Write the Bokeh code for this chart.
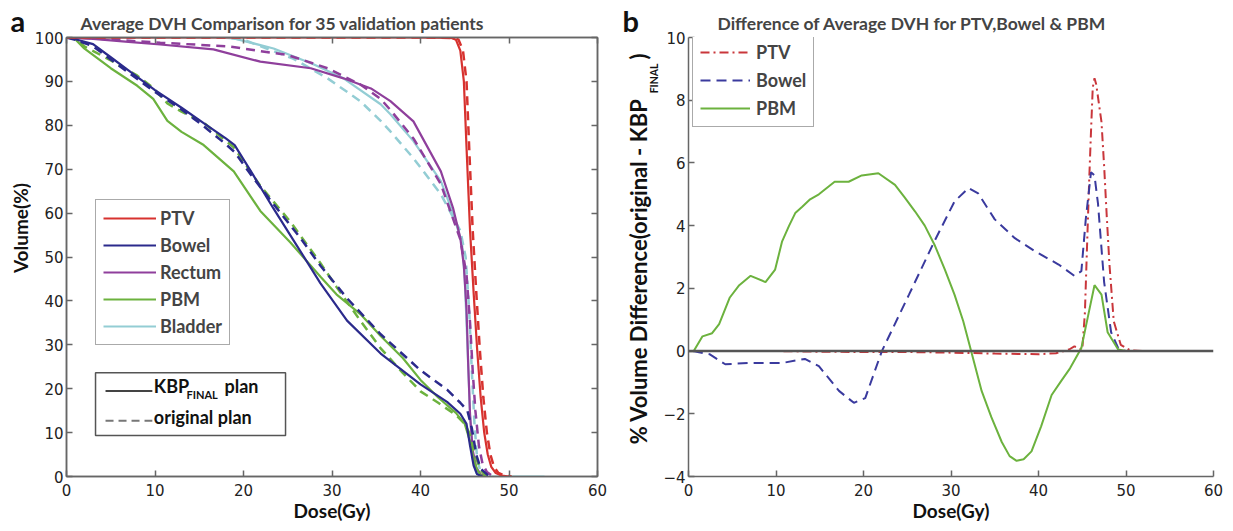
import math
from bokeh.plotting import figure
from bokeh.models import (Range1d, LinearAxis, Legend, LegendItem, Label,
                          BoxAnnotation, Span, FixedTicker)
from bokeh.layouts import row
from bokeh.embed import file_html
from bokeh.resources import INLINE

# ---------------- data: panel a (average DVH) ----------------
ptv_kbp_dose = [0, 40, 43.5, 44.0, 44.5, 44.9, 45.2, 45.6, 46.0, 46.4, 46.8, 47.2, 47.6, 48.0, 48.5, 49.2, 50.0]
ptv_kbp_vol = [100, 100, 99.9, 99.5, 97, 90, 75, 56, 42, 29, 18, 10, 5, 2.2, 0.8, 0.2, 0]
ptv_orig_dose = [0, 40, 43.8, 44.3, 44.8, 45.2, 45.5, 45.9, 46.3, 46.7, 47.1, 47.5, 47.9, 48.3, 48.8, 49.5, 50.3]
ptv_orig_vol = [100, 100, 99.9, 99.5, 97, 90, 75, 56, 42, 29, 18, 10, 5, 2.2, 0.8, 0.2, 0]

bowel_kbp_dose = [0, 1, 3, 5, 7, 10, 13, 15.5, 18, 19, 21, 23.4, 26.4, 28.7, 31.7, 35.5, 40, 43, 44.5, 45.2, 45.6, 46.0, 46.4, 47.0]
bowel_kbp_vol = [100, 99.6, 98.5, 95.5, 92.5, 88, 84, 80.5, 77, 75.5, 69, 61, 51.4, 44, 35.5, 28, 21, 17, 14.3, 12, 7, 2.5, 0.5, 0]
bowel_orig_dose = [0, 1, 3, 5, 7, 10, 13, 15.5, 18, 19, 21, 23.4, 26.4, 28.7, 31.7, 35.5, 40, 43, 44.5, 45.3, 45.8, 46.3, 46.8, 47.6, 48.0]
bowel_orig_vol = [100, 99.5, 98, 95, 92, 87.6, 83.6, 79.8, 75.7, 73.9, 68.3, 62, 54.4, 48, 40.6, 32.4, 24.2, 19.8, 16.8, 15, 11, 5, 1.8, 0.3, 0]

rectum_kbp_dose = [0, 3, 7, 10.6, 16.6, 21.9, 27.6, 31.3, 34.4, 36.6, 39.2, 42.3, 43.7, 44.5, 44.9, 45.2, 45.4, 45.6, 45.9, 46.3, 46.8, 47.3]
rectum_kbp_vol = [100, 99.7, 99, 98.4, 97.3, 94.5, 93, 90.7, 88.4, 85.5, 80.9, 69.5, 61, 54.3, 48, 38, 25, 14, 6, 2, 0.5, 0]
rectum_orig_dose = [0, 3, 10.6, 18.2, 25, 29.5, 33.2, 35.5, 36.6, 39.2, 42.3, 44.5, 45.2, 45.6, 45.9, 46.2, 46.6, 47.0, 47.5, 48.2]
rectum_orig_vol = [100, 99.8, 98.8, 98, 96, 93, 89.3, 86, 83.5, 77, 66.6, 54, 46, 35, 24, 15, 7, 3, 1, 0]

pbm_kbp_dose = [0, 0.8, 2, 5, 8, 9.8, 11.4, 13, 15.5, 18.9, 21.9, 25.3, 28.7, 30.5, 33.2, 35.5, 38, 40, 42, 44, 45, 45.6, 46.0, 46.4, 46.8, 47.2]
pbm_kbp_vol = [100, 100, 97.5, 93, 89, 86, 81, 78.5, 75.5, 69.5, 60.5, 53.3, 45.5, 41.5, 37, 32, 27, 22, 18, 14.5, 12, 8, 4, 1.5, 0.3, 0]
pbm_orig_dose = [0, 0.8, 2, 5, 8, 9.8, 11.4, 13, 15.5, 18.9, 21.9, 25.3, 28.7, 30.5, 33.2, 35.5, 38, 40, 42, 44, 45, 45.6, 46.0, 46.4, 46.8, 47.3, 47.8]
pbm_orig_vol = [100, 100, 98, 94.8, 91.3, 88.5, 85, 83.1, 80.6, 75, 66.2, 58, 48.6, 43.2, 35.5, 29.2, 23.6, 19.4, 16.8, 14, 12, 9.5, 6, 3.6, 1.5, 0.3, 0]

bladder_kbp_dose = [0, 17, 18.9, 23.4, 27.9, 31.3, 35.5, 36.6, 39.2, 42.3, 43.7, 44.7, 45.0, 45.3, 45.6, 45.9, 46.3, 47.0, 54.0]
bladder_kbp_vol = [100, 100, 99.8, 97.5, 93.9, 90.7, 84.8, 82.5, 76.4, 67.3, 59.8, 53, 45, 30, 14, 4, 0.8, 0, 0]
bladder_orig_dose = [0, 18, 20, 25.6, 29.5, 33.2, 35.5, 36.6, 39.2, 42.3, 44.5, 45.1, 45.5, 45.8, 46.1, 46.4, 46.8, 47.4]
bladder_orig_vol = [100, 100, 99.5, 95.2, 90.7, 85.5, 81, 78.6, 72.5, 64.3, 56, 50, 38, 24, 12, 4, 1, 0]

# ---------------- data: panel b (difference original - KBP_FINAL) ----------------
ptv_diff_dose = [0, 5, 10, 15, 20, 25, 30, 35, 40, 42, 43.5, 44.1, 44.6, 45.0, 45.3, 45.6, 45.8, 46.0, 46.2, 46.4, 46.6, 46.9, 47.2, 47.5, 47.8, 48.1, 48.6, 49.4, 50.5, 52]
ptv_diff = [0, 0, 0, -0.02, -0.03, -0.03, -0.05, -0.08, -0.1, -0.07, 0.05, 0.15, 0.1, 0.05, 1.2, 3.8, 5.5, 7.0, 8.4, 8.7, 8.5, 7.9, 7.3, 5.9, 4.3, 2.8, 0.95, 0.2, 0.02, 0]
bowel_diff_dose = [0.5, 2.4, 4.2, 6.9, 10.7, 13.3, 14.9, 17.2, 18.9, 20.2, 22.1, 25.2, 28.1, 30.4, 32.0, 33.1, 35, 37.3, 39.5, 42.3, 44.1, 44.9, 45.4, 46.0, 46.4, 46.8, 47.5, 48.3, 49.1, 50]
bowel_diff = [0, -0.1, -0.42, -0.38, -0.38, -0.25, -0.48, -1.27, -1.65, -1.5, 0, 1.8, 3.5, 4.77, 5.2, 5.03, 4.2, 3.6, 3.2, 2.76, 2.4, 2.55, 4.2, 5.7, 5.6, 4.7, 2.2, 0.6, 0.1, 0]
pbm_diff_dose = [0.6, 1.6, 2.7, 3.5, 4.7, 5.8, 7.1, 8.8, 9.9, 10.7, 11.5, 12.2, 13, 13.9, 14.9, 16.7, 18.3, 19.8, 21.7, 23.6, 24.7, 25.9, 27.0, 28.1, 29.3, 30.4, 31.4, 32.3, 33.5, 34.6, 35.8, 36.7, 37.5, 38.3, 39.2, 40.3, 41.5, 42.6, 43.6, 44.9, 45.7, 46.4, 47.2, 47.9, 49.1, 50]
pbm_diff = [0, 0.47, 0.57, 0.86, 1.7, 2.1, 2.4, 2.2, 2.6, 3.5, 4.0, 4.4, 4.6, 4.84, 5.0, 5.4, 5.4, 5.6, 5.67, 5.3, 4.9, 4.45, 4.0, 3.4, 2.6, 1.8, 0.95, 0, -1.27, -2.1, -2.9, -3.35, -3.5, -3.45, -3.2, -2.4, -1.4, -0.95, -0.55, 0.1, 1.17, 2.1, 1.8, 0.6, 0.05, 0]

x_ticks = [0, 10, 20, 30, 40, 50, 60]
a_y_ticks = [0, 10, 20, 30, 40, 50, 60, 70, 80, 90, 100]
b_y_ticks = [-4, -2, 0, 2, 4, 6, 8, 10]

organs = ["PTV", "Bowel", "Rectum", "PBM", "Bladder"]
organ_colors = ["#d7322f", "#2b2a8c", "#8f3f9c", "#6cb23e", "#93cdd4"]

FONT = "Lato"
TICKFONT = "DejaVu Sans"
AXC = "#666666"
H = 531
TOP, BOT = 36, 55          # frame borders shared by every plot of the row


def style_axis(ax, ticks, labels=True):
    ax.ticker = FixedTicker(ticks=ticks)
    ax.major_tick_in = 6
    ax.major_tick_out = 0
    ax.minor_tick_line_color = None
    ax.axis_line_color = AXC
    ax.axis_line_width = 1.5
    ax.major_tick_line_color = AXC
    ax.major_tick_line_width = 1.5
    ax.major_label_text_font = TICKFONT
    ax.major_label_text_font_size = "15px"
    ax.major_label_text_color = "#222222"
    ax.major_label_standoff = 3
    if not labels:
        ax.major_label_overrides = {t: "" for t in ticks}
        ax.major_label_standoff = 0
    ax.axis_label_text_font = FONT
    ax.axis_label_text_font_style = "bold"
    ax.axis_label_text_color = "#111111"


def strip(w, letter, letter_offset):
    # frame of a strip is aligned with the plots' frames (TOP..H-BOT); y is "pixels from page bottom"
    s = figure(width=w, height=H, x_range=Range1d(0, w), y_range=Range1d(BOT, H - TOP), title=letter,
               x_axis_location=None, y_axis_location=None, output_backend="svg",
               toolbar_location=None, min_border_left=0, min_border_right=0,
               min_border_top=TOP, min_border_bottom=BOT)
    s.grid.visible = False
    s.outline_line_color = None
    s.title.text_font = FONT
    s.title.text_font_style = "bold"
    s.title.text_font_size = "29px"
    s.title.text_color = "#111111"
    s.title.align = "left"
    s.title.offset = letter_offset
    s.title.standoff = 0
    return s


txt = dict(text_font=FONT, text_font_style="bold", text_color="#111111")

# ================= left strip (panel letter + y label) =================
S1W = 31
s1 = strip(S1W, "a", 10)
s1.add_layout(Label(x=S1W, y=H - 227, text="Volume(%)", text_align="center", angle=math.pi / 2,
                    text_font_size="19px", **txt))

# ================= panel a =================
p1 = figure(width=586, height=H, x_range=Range1d(0, 60), y_range=Range1d(0, 100),
            output_backend="svg", toolbar_location=None,
            min_border_left=35, min_border_right=20, min_border_top=TOP, min_border_bottom=BOT)
p1.grid.visible = False
p1.outline_line_color = AXC
p1.outline_line_width = 1.5

p1.title.text = "Average DVH Comparison for 35 validation patients"
p1.title.text_font = FONT
p1.title.text_font_style = "bold"
p1.title.text_font_size = "17.5px"
p1.title.align = "left"
p1.title.offset = 14
p1.title.standoff = 8

style_axis(p1.xaxis[0], x_ticks)
style_axis(p1.yaxis[0], a_y_ticks)
p1.xaxis.major_label_standoff = 7
p1.xaxis.axis_label = "Dose(Gy)"
p1.xaxis.axis_label_text_font_size = "19px"
p1.xaxis.axis_label_standoff = 0

top_ax = LinearAxis()
right_ax = LinearAxis()
style_axis(top_ax, x_ticks, labels=False)
style_axis(right_ax, a_y_ticks, labels=False)
p1.add_layout(top_ax, "above")
p1.add_layout(right_ax, "right")

kbp_sets = [(ptv_kbp_dose, ptv_kbp_vol), (bowel_kbp_dose, bowel_kbp_vol), (rectum_kbp_dose, rectum_kbp_vol),
            (pbm_kbp_dose, pbm_kbp_vol), (bladder_kbp_dose, bladder_kbp_vol)]
orig_sets = [(ptv_orig_dose, ptv_orig_vol), (bowel_orig_dose, bowel_orig_vol), (rectum_orig_dose, rectum_orig_vol),
             (pbm_orig_dose, pbm_orig_vol), (bladder_orig_dose, bladder_orig_vol)]

order = [4, 2, 3, 1, 0]  # drawing order (PTV on top)
solid_r = {}
for i in order:
    d, v = orig_sets[i]
    p1.line(d, v, line_color=organ_colors[i], line_width=2.5, line_dash="9 6")
    d, v = kbp_sets[i]
    solid_r[i] = p1.line(d, v, line_color=organ_colors[i], line_width=2.2)
items = [LegendItem(label=name, renderers=[solid_r[i]]) for i, name in enumerate(organs)]

leg1 = Legend(items=items, location=(29, 131), glyph_width=53, glyph_height=20, label_height=20,
              spacing=5, padding=7, margin=0, label_standoff=4,
              label_text_font=FONT, label_text_font_style="bold", label_text_font_size="18px",
              border_line_color="#555555", border_line_width=1.5, background_fill_alpha=1)
p1.add_layout(leg1)

# second legend (line styles)
p1.add_layout(BoxAnnotation(left=3.28, right=24.75, bottom=9.32, top=23.64, fill_color="white", fill_alpha=1,
                            line_color="#555555", line_width=1.5, line_alpha=1))
p1.line([4.41, 9.7], [19.5, 19.5], line_color="#444444", line_width=2, level="overlay")
p1.line([4.41, 9.7], [12.7, 12.7], line_color="#777777", line_width=2, line_dash="8 5", level="overlay")
lab_kw = dict(level="overlay", **txt)
p1.add_layout(Label(x=9.87, y=18.1, text="KBP", text_font_size="18px", **lab_kw))
p1.add_layout(Label(x=13.55, y=17.2, text="FINAL", text_font_size="11px", **lab_kw))
p1.add_layout(Label(x=17.85, y=18.1, text="plan", text_font_size="18px", **lab_kw))
p1.add_layout(Label(x=9.87, y=11.1, text="original plan", text_font_size="18px", **lab_kw))

# ================= middle strip (panel letter + y label of b) =================
S2X = 617
S2W = 42
s2 = strip(S2W, "b", 5)
rot = dict(angle=math.pi / 2, **txt)
s2.add_layout(Label(x=651 - S2X, y=H - 97, text="% Volume Difference(original - KBP", text_align="right",
                    text_font_size="22px", **rot))
s2.add_layout(Label(x=659 - S2X, y=H - 92, text="FINAL", text_align="left", text_font_size="10.5px", **rot))
s2.add_layout(Label(x=651 - S2X, y=H - 58, text=")", text_align="left", text_font_size="22px", **rot))

# ================= panel b =================
p2 = figure(width=574, height=H, x_range=Range1d(0, 60), y_range=Range1d(-4, 10),
            output_backend="svg", toolbar_location=None,
            min_border_left=29, min_border_right=20, min_border_top=TOP, min_border_bottom=BOT)
p2.grid.visible = False
p2.outline_line_color = None
p2.title.text = "Difference of Average DVH for PTV,Bowel & PBM"
p2.title.text_font = FONT
p2.title.text_font_style = "bold"
p2.title.text_font_size = "17.5px"
p2.title.align = "left"
p2.title.offset = 29
p2.title.standoff = 8

style_axis(p2.xaxis[0], x_ticks)
style_axis(p2.yaxis[0], b_y_ticks)
p2.xaxis.major_label_standoff = 7
p2.xaxis.axis_label = "Dose(Gy)"
p2.xaxis.axis_label_text_font_size = "19px"
p2.xaxis.axis_label_standoff = 0

p2.add_layout(Span(location=0, dimension="width", line_color="#555555", line_width=2.5))

r_ptv = p2.line(ptv_diff_dose, ptv_diff, line_color="#c9363b", line_width=2, line_dash="9 4 2 4")
r_bow = p2.line(bowel_diff_dose, bowel_diff, line_color="#3a3a9e", line_width=2, line_dash="10 6")
r_pbm = p2.line(pbm_diff_dose, pbm_diff, line_color="#6cb23e", line_width=2)

leg2 = Legend(items=[LegendItem(label="PTV", renderers=[r_ptv]),
                     LegendItem(label="Bowel", renderers=[r_bow]),
                     LegendItem(label="PBM", renderers=[r_pbm])],
              location=(4, 349), glyph_width=50, glyph_height=20, label_height=20,
              spacing=6, padding=7, margin=0, label_standoff=6,
              label_text_font=FONT, label_text_font_style="bold", label_text_font_size="18px",
              border_line_color="#555555", border_line_width=1.5, background_fill_alpha=1)
p2.add_layout(leg2)

layout = row(s1, p1, s2, p2)
open("out.html", "w").write(file_html(layout, INLINE))
